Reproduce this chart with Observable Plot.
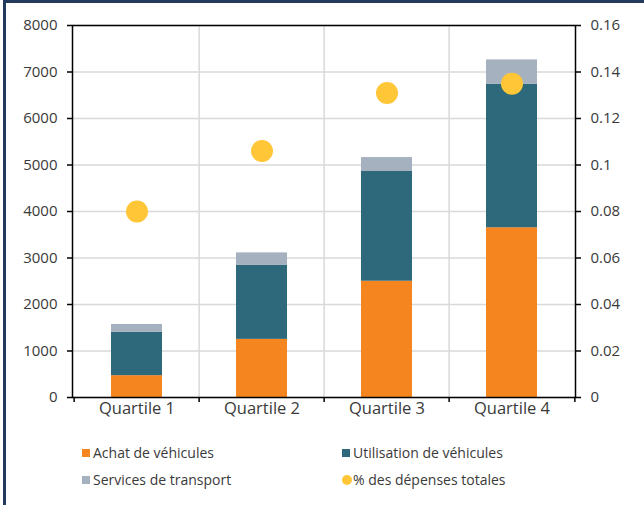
<!DOCTYPE html>
<html>
<head>
<meta charset="utf-8">
<script src="https://cdn.jsdelivr.net/npm/d3@7"></script>
<script src="https://cdn.jsdelivr.net/npm/@observablehq/plot@0.6"></script>
<style>
  html, body { margin: 0; padding: 0; background: #fff; }
  #wrap { position: relative; width: 644px; height: 505px; overflow: hidden; font-family: "Open Sans", sans-serif; }
  #borderTop { position: absolute; left: 3px; top: 0; width: 641px; height: 3px; background: #243a5e; }
  #borderLeft { position: absolute; left: 3px; top: 0; width: 3px; height: 505px; background: #243a5e; }
  #chart { position: absolute; left: 0; top: 0; }
  #legend { position: absolute; left: 82px; top: 443px; width: 520px; display: grid; grid-template-columns: 260px 260px; row-gap: 8px; font-size: 14px; color: #3a3a3a; }
  .item { display: flex; align-items: center; height: 19px; white-space: nowrap; }
  .sw { width: 8px; height: 8px; margin-right: 3px; flex: none; }
  .sw.circle { width: 10px; height: 10px; border-radius: 50%; margin-right: 1px; }
</style>
</head>
<body>
<div id="wrap">
  <div id="chart"></div>
  <div id="borderTop"></div>
  <div id="borderLeft"></div>
  <div id="legend"></div>
</div>
<script>
const quartiles = ["Quartile 1", "Quartile 2", "Quartile 3", "Quartile 4"];
const achat = [470, 1250, 2500, 3650];
const utilisation = [930, 1590, 2360, 3090];
const services = [170, 270, 300, 520];
const partDepenses = [0.080, 0.106, 0.131, 0.135];
const seriesNames = ["Achat de véhicules", "Utilisation de véhicules", "Services de transport"];
const pctName = "% des dépenses totales";
const seriesColors = ["#f5861f", "#2e687b", "#a6b1bf"];
const pctColor = "#ffc637";
const leftTicks = [0, 1000, 2000, 3000, 4000, 5000, 6000, 7000, 8000];
const rightTicks = [0, 0.02, 0.04, 0.06, 0.08, 0.1, 0.12, 0.14, 0.16];

const width = 644, height = 425;
const marginLeft = 72, marginRight = 69, marginTop = 25, marginBottom = 28;
const bw = (width - marginLeft - marginRight) / quartiles.length;
const ratio = 8000 / 0.16;

const rows = [];
quartiles.forEach((q, i) => {
  rows.push({q, series: seriesNames[0], value: achat[i]});
  rows.push({q, series: seriesNames[1], value: utilisation[i]});
  rows.push({q, series: seriesNames[2], value: services[i]});
});
const pctRows = quartiles.map((q, i) => ({q, pct: partDepenses[i]}));

const plot = Plot.plot({
  width, height, marginLeft, marginRight, marginTop, marginBottom,
  style: {fontFamily: "'Open Sans', sans-serif", fontSize: "15px", background: "transparent"},
  x: {type: "band", domain: quartiles, padding: 0},
  y: {domain: [0, 8000]},
  color: {domain: seriesNames, range: seriesColors},
  marks: [
    Plot.ruleY(leftTicks, {stroke: "#d9d9d9", strokeWidth: 1.5}),
    Plot.ruleX(quartiles.slice(1), {dx: -bw / 2, stroke: "#d9d9d9", strokeWidth: 1.5}),
    Plot.barY(rows, {x: "q", y: "value", fill: "series", order: seriesNames, insetLeft: 37, insetRight: 37}),
    Plot.dot(pctRows, {x: "q", y: d => d.pct * ratio, r: 11, fill: pctColor}),
    Plot.frame({stroke: "black", strokeWidth: 1.5}),
    Plot.ruleX(quartiles, {dx: -bw / 2, y1: 0, y2: 0, insetBottom: -5, stroke: "black", strokeWidth: 1.5}),
    Plot.ruleX(quartiles.slice(-1), {dx: bw / 2, y1: 0, y2: 0, insetBottom: -5, stroke: "black", strokeWidth: 1.5}),
    Plot.axisY(leftTicks, {anchor: "left", tickSize: 5, tickPadding: 10, stroke: "black", strokeWidth: 1.5, fill: "#3a3a3a", tickFormat: d => String(d), label: null}),
    Plot.axisY(rightTicks.map(v => v * ratio), {anchor: "right", tickSize: 5, tickPadding: 10, stroke: "black", strokeWidth: 1.5, fill: "#3a3a3a", tickFormat: d => String(+(d / ratio).toFixed(2)), label: null}),
    Plot.axisX(quartiles, {anchor: "bottom", tickSize: 0, tickPadding: 5, fontSize: "16.5px", fill: "#3a3a3a", label: null})
  ]
});
document.getElementById("chart").appendChild(plot);

const legend = document.getElementById("legend");
const items = [
  {name: seriesNames[0], color: seriesColors[0], circle: false},
  {name: seriesNames[1], color: seriesColors[1], circle: false},
  {name: seriesNames[2], color: seriesColors[2], circle: false},
  {name: pctName, color: pctColor, circle: true}
];
for (const it of items) {
  const d = document.createElement("div");
  d.className = "item";
  const s = document.createElement("span");
  s.className = "sw" + (it.circle ? " circle" : "");
  s.style.background = it.color;
  d.appendChild(s);
  d.appendChild(document.createTextNode(it.name));
  legend.appendChild(d);
}
</script>
</body>
</html>
